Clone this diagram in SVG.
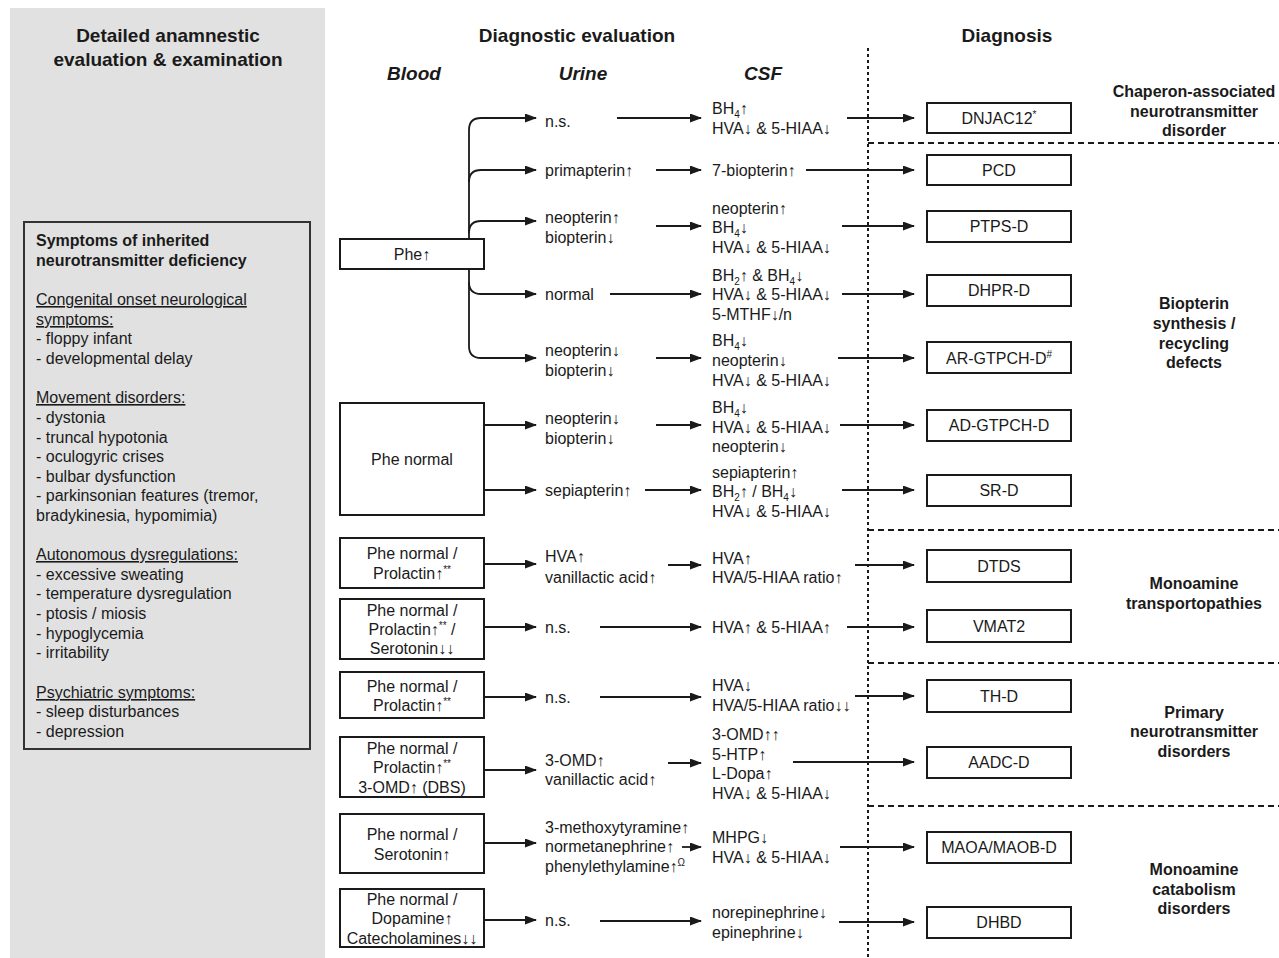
<svg xmlns="http://www.w3.org/2000/svg" width="1279" height="958" viewBox="0 0 1279 958">
<defs>
<marker id="ah" markerWidth="12" markerHeight="10" refX="11" refY="4.5" orient="auto" markerUnits="userSpaceOnUse">
<path d="M0,0 L12,4.5 L0,9 z" fill="#1a1a1a"/>
</marker>
<style>
text{font-family:"Liberation Sans",Arial,sans-serif;fill:#1a1a1a;font-size:16px}
.b{font-weight:bold}
.h{font-weight:bold;font-size:19px}
.hi{font-weight:bold;font-style:italic;font-size:19px}
.c{text-anchor:middle}
.u{text-decoration:underline}
.box{fill:#fff;stroke:#1a1a1a;stroke-width:2}
.con{fill:none;stroke:#1a1a1a;stroke-width:1.8;marker-end:url(#ah)}
.dot{fill:none;stroke:#1a1a1a;stroke-width:2;stroke-dasharray:3 3}
.dash{fill:none;stroke:#1a1a1a;stroke-width:2;stroke-dasharray:6 4}
.s{font-size:10px}
</style>
</defs>
<rect width="1279" height="958" fill="#fff"/>
<g id="left-panel">
<rect x="10" y="8" width="315" height="950" fill="#e1e1e1"/>
<text class="h c" x="168" y="42">Detailed anamnestic</text>
<text class="h c" x="168" y="66">evaluation &amp; examination</text>
</g>
<g id="symptoms">
<rect x="24" y="222" width="286" height="527" fill="none" stroke="#333" stroke-width="2"/>
<text x="36" y="246" class="b">Symptoms of inherited</text>
<text x="36" y="266" class="b">neurotransmitter deficiency</text>
<text x="36" y="305" class="u">Congenital onset neurological </text>
<text x="36" y="325" class="u">symptoms:</text>
<text x="36" y="344">- floppy infant</text>
<text x="36" y="364">- developmental delay</text>
<text x="36" y="403" class="u">Movement disorders:</text>
<text x="36" y="423">- dystonia</text>
<text x="36" y="443">- truncal hypotonia</text>
<text x="36" y="462">- oculogyric crises</text>
<text x="36" y="482">- bulbar dysfunction</text>
<text x="36" y="501">- parkinsonian features (tremor,</text>
<text x="36" y="521">bradykinesia, hypomimia)</text>
<text x="36" y="560" class="u">Autonomous dysregulations:</text>
<text x="36" y="580">- excessive sweating</text>
<text x="36" y="599">- temperature dysregulation</text>
<text x="36" y="619">- ptosis / miosis</text>
<text x="36" y="639">- hypoglycemia</text>
<text x="36" y="658">- irritability</text>
<text x="36" y="698" class="u">Psychiatric symptoms:</text>
<text x="36" y="717">- sleep disturbances</text>
<text x="36" y="737">- depression</text>
</g>
<g id="headers">
<text class="h c" x="577" y="42">Diagnostic evaluation</text>
<text class="h c" x="1007" y="42">Diagnosis</text>
<text class="hi c" x="414" y="80">Blood</text>
<text class="hi c" x="583" y="80">Urine</text>
<text class="hi c" x="763" y="80">CSF</text>
</g>
<g id="separators">
<line class="dot" x1="868" y1="48" x2="868" y2="958"/>
<line class="dash" x1="868" y1="143" x2="1279" y2="143"/>
<line class="dash" x1="868" y1="530" x2="1279" y2="530"/>
<line class="dash" x1="868" y1="663" x2="1279" y2="663"/>
<line class="dash" x1="868" y1="806" x2="1279" y2="806"/>
</g>
<g id="connectors">
<path class="con" d="M469,240 L469,130 Q469,118 481,118 L536,118"/>
<path class="con" d="M469,182 Q469,170 481,170 L536,170"/>
<path class="con" d="M469,233 Q469,221 481,221 L536,221"/>
<path class="con" d="M469,268 L469,346 Q469,358 481,358 L536,358"/>
<path class="con" d="M469,282 Q469,294 481,294 L536,294"/>
<path class="con" d="M484,425 L536,425"/>
<path class="con" d="M484,490 L536,490"/>
<path class="con" d="M484,564 L536,564"/>
<path class="con" d="M484,627 L536,627"/>
<path class="con" d="M484,697 L536,697"/>
<path class="con" d="M484,770 L536,770"/>
<path class="con" d="M484,843 L536,843"/>
<path class="con" d="M484,920 L536,920"/>
<path class="con" d="M617,118 L701,118"/>
<path class="con" d="M656,170 L701,170"/>
<path class="con" d="M656,226 L701,226"/>
<path class="con" d="M610,294 L701,294"/>
<path class="con" d="M656,358 L701,358"/>
<path class="con" d="M656,425 L701,425"/>
<path class="con" d="M645,490 L701,490"/>
<path class="con" d="M668,565 L701,565"/>
<path class="con" d="M600,627 L701,627"/>
<path class="con" d="M600,697 L701,697"/>
<path class="con" d="M668,763 L701,763"/>
<path class="con" d="M682,847 L701,847"/>
<path class="con" d="M600,921 L701,921"/>
<path class="con" d="M847,118 L914,118"/>
<path class="con" d="M806,170 L914,170"/>
<path class="con" d="M842,226 L914,226"/>
<path class="con" d="M842,294 L914,294"/>
<path class="con" d="M838,358 L914,358"/>
<path class="con" d="M840,425 L914,425"/>
<path class="con" d="M842,490 L914,490"/>
<path class="con" d="M855,565 L914,565"/>
<path class="con" d="M847,627 L914,627"/>
<path class="con" d="M855,696 L914,696"/>
<path class="con" d="M793,762 L914,762"/>
<path class="con" d="M840,847 L914,847"/>
<path class="con" d="M839,922 L914,922"/>
</g>
<g id="blood-phe-high">
<rect class="box" x="340" y="239" width="144" height="30"/>
<text class="c" x="412" y="260">Phe↑</text>
</g>
<g id="blood-phe-normal">
<rect class="box" x="340" y="403" width="144" height="112"/>
<text class="c" x="412" y="465">Phe normal</text>
</g>
<g id="blood-prolactin">
<rect class="box" x="340" y="538" width="144" height="50"/>
<text class="c" x="412" y="559">Phe normal /</text>
<text class="c" x="412" y="579">Prolactin↑<tspan class="s" dy="-6">**</tspan></text>
</g>
<g id="blood-prolactin-serotonin">
<rect class="box" x="340" y="599" width="144" height="60"/>
<text class="c" x="412" y="616">Phe normal /</text>
<text class="c" x="412" y="635">Prolactin↑<tspan class="s" dy="-6">**</tspan><tspan dy="6"> /</tspan></text>
<text class="c" x="412" y="654">Serotonin↓↓</text>
</g>
<g id="blood-prolactin-2">
<rect class="box" x="340" y="672" width="144" height="46"/>
<text class="c" x="412" y="692">Phe normal /</text>
<text class="c" x="412" y="711">Prolactin↑<tspan class="s" dy="-6">**</tspan></text>
</g>
<g id="blood-3omd">
<rect class="box" x="340" y="737" width="144" height="60"/>
<text class="c" x="412" y="754">Phe normal /</text>
<text class="c" x="412" y="773">Prolactin↑<tspan class="s" dy="-6">**</tspan></text>
<text class="c" x="412" y="793">3-OMD↑ (DBS)</text>
</g>
<g id="blood-serotonin">
<rect class="box" x="340" y="814" width="144" height="59"/>
<text class="c" x="412" y="840">Phe normal /</text>
<text class="c" x="412" y="860">Serotonin↑</text>
</g>
<g id="blood-dopamine">
<rect class="box" x="340" y="889" width="144" height="58"/>
<text class="c" x="412" y="905">Phe normal /</text>
<text class="c" x="412" y="924">Dopamine↑</text>
<text class="c" x="412" y="944">Catecholamines↓↓</text>
</g>
<g id="urine">
<text x="545" y="127">n.s.</text>
<text x="545" y="176">primapterin↑</text>
<text x="545" y="223">neopterin↑</text>
<text x="545" y="243">biopterin↓</text>
<text x="545" y="300">normal</text>
<text x="545" y="356">neopterin↓</text>
<text x="545" y="376">biopterin↓</text>
<text x="545" y="424">neopterin↓</text>
<text x="545" y="444">biopterin↓</text>
<text x="545" y="496">sepiapterin↑</text>
<text x="545" y="562">HVA↑</text>
<text x="545" y="583">vanillactic acid↑</text>
<text x="545" y="633">n.s.</text>
<text x="545" y="703">n.s.</text>
<text x="545" y="766">3-OMD↑</text>
<text x="545" y="785">vanillactic acid↑</text>
<text x="545" y="833">3-methoxytyramine↑</text>
<text x="545" y="852">normetanephrine↑</text>
<text x="545" y="872">phenylethylamine↑<tspan class="s" dy="-6">Ω</tspan></text>
<text x="545" y="926">n.s.</text>
</g>
<g id="csf">
<text x="712" y="114">BH<tspan class="s" dy="4">4</tspan><tspan dy="-4">↑</tspan></text>
<text x="712" y="134">HVA↓ &amp; 5-HIAA↓</text>
<text x="712" y="176">7-biopterin↑</text>
<text x="712" y="214">neopterin↑</text>
<text x="712" y="233">BH<tspan class="s" dy="4">4</tspan><tspan dy="-4">↓</tspan></text>
<text x="712" y="253">HVA↓ &amp; 5-HIAA↓</text>
<text x="712" y="281">BH<tspan class="s" dy="4">2</tspan><tspan dy="-4">↑ &amp; BH</tspan><tspan class="s" dy="4">4</tspan><tspan dy="-4">↓</tspan></text>
<text x="712" y="300">HVA↓ &amp; 5-HIAA↓</text>
<text x="712" y="320">5-MTHF↓/n</text>
<text x="712" y="346">BH<tspan class="s" dy="4">4</tspan><tspan dy="-4">↓</tspan></text>
<text x="712" y="366">neopterin↓</text>
<text x="712" y="386">HVA↓ &amp; 5-HIAA↓</text>
<text x="712" y="413">BH<tspan class="s" dy="4">4</tspan><tspan dy="-4">↓</tspan></text>
<text x="712" y="433">HVA↓ &amp; 5-HIAA↓</text>
<text x="712" y="452">neopterin↓</text>
<text x="712" y="478">sepiapterin↑</text>
<text x="712" y="497">BH<tspan class="s" dy="4">2</tspan><tspan dy="-4">↑ / BH</tspan><tspan class="s" dy="4">4</tspan><tspan dy="-4">↓</tspan></text>
<text x="712" y="517">HVA↓ &amp; 5-HIAA↓</text>
<text x="712" y="564">HVA↑</text>
<text x="712" y="583">HVA/5-HIAA ratio↑</text>
<text x="712" y="633">HVA↑ &amp; 5-HIAA↑</text>
<text x="712" y="691">HVA↓</text>
<text x="712" y="711">HVA/5-HIAA ratio↓↓</text>
<text x="712" y="740">3-OMD↑↑</text>
<text x="712" y="760">5-HTP↑</text>
<text x="712" y="779">L-Dopa↑</text>
<text x="712" y="799">HVA↓ &amp; 5-HIAA↓</text>
<text x="712" y="843">MHPG↓</text>
<text x="712" y="863">HVA↓ &amp; 5-HIAA↓</text>
<text x="712" y="918">norepinephrine↓</text>
<text x="712" y="938">epinephrine↓</text>
</g>
<g id="dx-dnjac12"><rect class="box" x="927" y="103" width="144" height="30"/><text class="c" x="999" y="124">DNJAC12<tspan class="s" dy="-6">*</tspan></text></g>
<g id="dx-pcd"><rect class="box" x="927" y="155" width="144" height="30"/><text class="c" x="999" y="176">PCD</text></g>
<g id="dx-ptps"><rect class="box" x="927" y="211" width="144" height="31"/><text class="c" x="999" y="232">PTPS-D</text></g>
<g id="dx-dhpr"><rect class="box" x="927" y="275" width="144" height="31"/><text class="c" x="999" y="296">DHPR-D</text></g>
<g id="dx-ar-gtpch"><rect class="box" x="927" y="342" width="144" height="31"/><text class="c" x="999" y="364">AR-GTPCH-D<tspan class="s" dy="-6">#</tspan></text></g>
<g id="dx-ad-gtpch"><rect class="box" x="927" y="410" width="144" height="31"/><text class="c" x="999" y="431">AD-GTPCH-D</text></g>
<g id="dx-sr"><rect class="box" x="927" y="475" width="144" height="31"/><text class="c" x="999" y="496">SR-D</text></g>
<g id="dx-dtds"><rect class="box" x="927" y="550" width="144" height="32"/><text class="c" x="999" y="572">DTDS</text></g>
<g id="dx-vmat2"><rect class="box" x="927" y="610" width="144" height="32"/><text class="c" x="999" y="632">VMAT2</text></g>
<g id="dx-th"><rect class="box" x="927" y="680" width="144" height="32"/><text class="c" x="999" y="702">TH-D</text></g>
<g id="dx-aadc"><rect class="box" x="927" y="747" width="144" height="31"/><text class="c" x="999" y="768">AADC-D</text></g>
<g id="dx-maoa"><rect class="box" x="927" y="832" width="144" height="31"/><text class="c" x="999" y="853">MAOA/MAOB-D</text></g>
<g id="dx-dhbd"><rect class="box" x="927" y="907" width="144" height="31"/><text class="c" x="999" y="928">DHBD</text></g>
<g id="categories">
<text class="b c" x="1194" y="97">Chaperon-associated</text>
<text class="b c" x="1194" y="117">neurotransmitter</text>
<text class="b c" x="1194" y="136">disorder</text>
<text class="b c" x="1194" y="309">Biopterin</text>
<text class="b c" x="1194" y="329">synthesis /</text>
<text class="b c" x="1194" y="349">recycling</text>
<text class="b c" x="1194" y="368">defects</text>
<text class="b c" x="1194" y="589">Monoamine</text>
<text class="b c" x="1194" y="609">transportopathies</text>
<text class="b c" x="1194" y="718">Primary</text>
<text class="b c" x="1194" y="737">neurotransmitter</text>
<text class="b c" x="1194" y="757">disorders</text>
<text class="b c" x="1194" y="875">Monoamine</text>
<text class="b c" x="1194" y="895">catabolism</text>
<text class="b c" x="1194" y="914">disorders</text>
</g>
</svg>
